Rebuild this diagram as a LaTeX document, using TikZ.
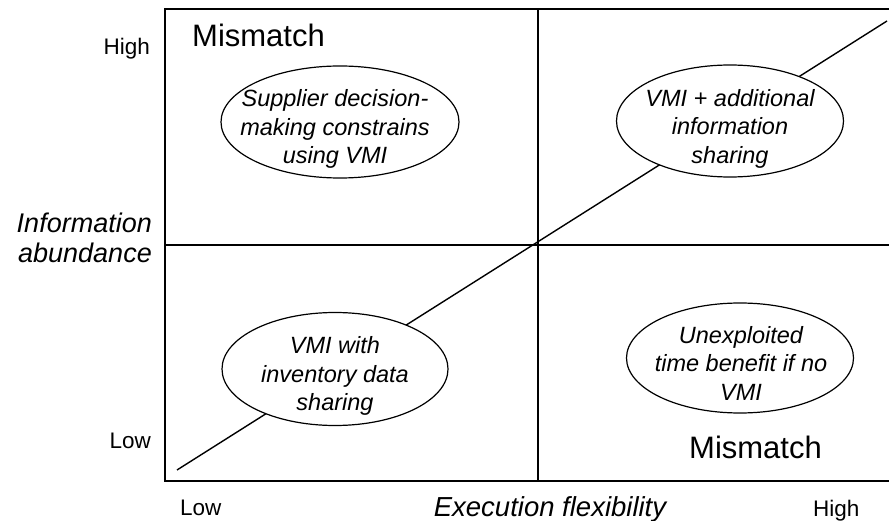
\documentclass[tikz,border=0pt]{standalone}
\usepackage{fontspec}
\setmainfont{Liberation Sans}
\usetikzlibrary{shapes.geometric}
\tikzset{
  frame/.style={line width=1.6pt},
  bubble/.style={ellipse, draw, line width=1.2pt, fill=white, inner sep=0pt},
  bubbletext/.style={align=center, inner sep=0pt, font=\fontsize{23.5}{28.5}\selectfont\itshape},
  tag/.style={inner sep=0pt, font=\fontsize{31}{36}\selectfont},
  level/.style={inner sep=0pt, font=\fontsize{22.5}{27}\selectfont},
  axistitle/.style={inner sep=0pt, align=right, font=\fontsize{27}{30}\selectfont\itshape},
}
\begin{document}
\begin{tikzpicture}[x=1pt,y=-1pt]
\useasboundingbox (0,0) rectangle (889,521);

% frame and quadrant dividers
\coordinate (tr) at (892,9);
\coordinate (tl) at (165,9);
\coordinate (bl) at (165,481);
\coordinate (br) at (892,481);
\coordinate (ml) at (165,245);
\coordinate (mr) at (892,245);
\coordinate (mt) at (538,9);
\coordinate (mb) at (538,481);
\draw[frame] (tr) -- (tl) -- (bl) -- (br);
\draw[frame] (ml) -- (mr);
\draw[frame] (mt) -- (mb);

% diagonal fit line
\coordinate (d1) at (177,470);
\coordinate (d2) at (887,21);
\draw[line width=1.4pt] (d1) -- (d2);

% quadrant bubbles
\node[bubble, minimum width=238pt, minimum height=112pt] (e1) at (340,122) {};
\node[bubble, minimum width=227pt, minimum height=112pt] (e2) at (730,121) {};
\node[bubble, minimum width=226pt, minimum height=113pt] (e3) at (335,369) {};
\node[bubble, minimum width=227pt, minimum height=110pt] (e4) at (740,358) {};

\node[bubbletext] (t1) at (335,129) {Supplier decision-\\making constrains\\using VMI};
\node[bubbletext] (t2) at (730,128.5) {VMI + additional\\information\\sharing};
\node[bubbletext] (t3) at (335,376) {VMI with\\inventory data\\sharing};
\node[bubbletext] (t4) at (741,363) {Unexploited\\time benefit if no\\VMI};

% mismatch tags
\node[tag, anchor=base west] (m1) at (192,47) {Mismatch};
\node[tag, anchor=base west] (m2) at (689,458) {Mismatch};

% axis levels
\node[level, anchor=base east] (yh) at (150,55) {High};
\node[level, anchor=base east] (yl) at (151,448) {Low};
\node[level, anchor=base west] (xl) at (180,515) {Low};
\node[level, anchor=base west] (xh) at (813,516) {High};

% axis titles
\node[axistitle, anchor=east] (ya) at (152,237.5) {Information\\abundance};
\node[inner sep=0pt, anchor=base, font=\fontsize{27.5}{30}\selectfont\itshape] (xa) at (550,516) {Execution flexibility};
\end{tikzpicture}
\end{document}
